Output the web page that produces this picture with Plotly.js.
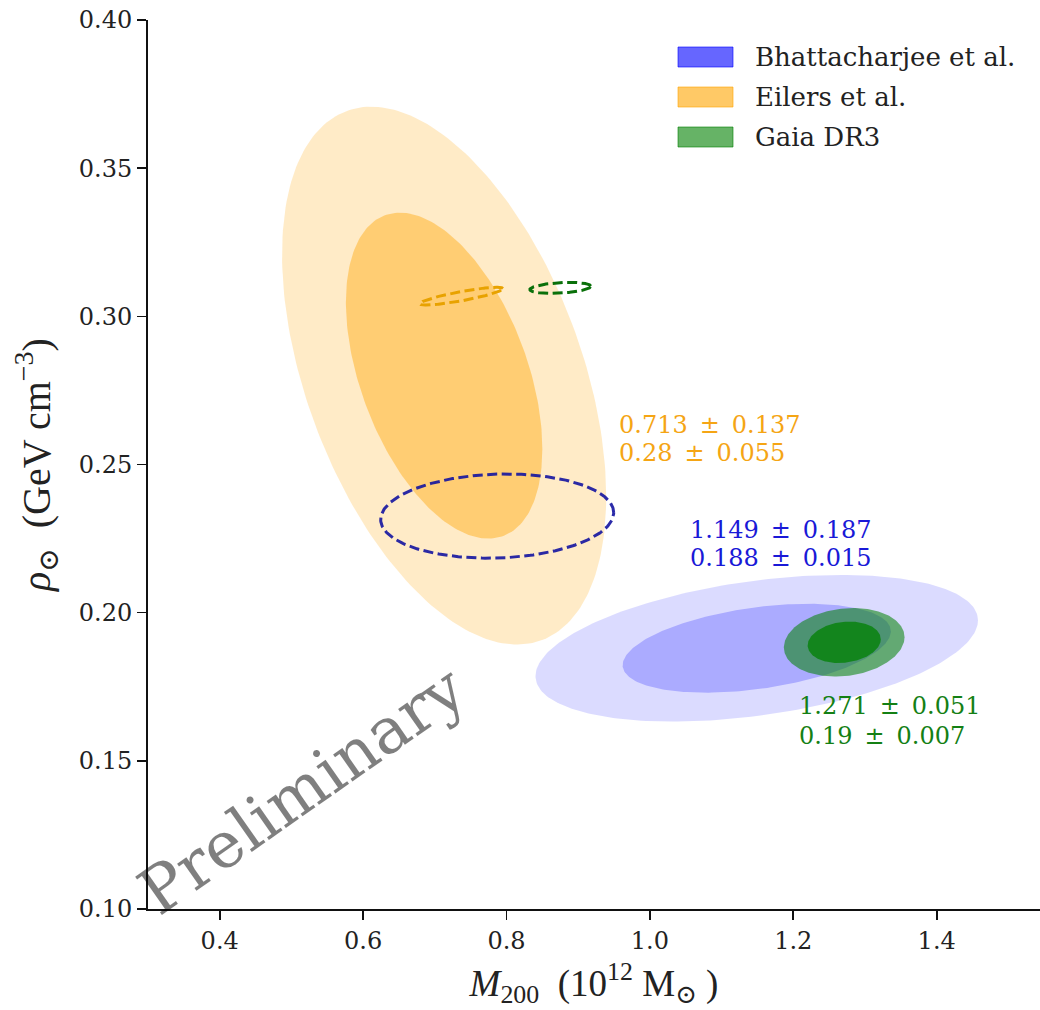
<!DOCTYPE html>
<html><head><meta charset="utf-8">
<script src="https://cdn.plot.ly/plotly-3.0.1.min.js"></script>
<style>html,body{margin:0;padding:0;background:#fff}#chart{width:1040px;height:1010px}</style>
</head><body><div id="chart"></div>
<script>
// ---------------- data ----------------
const seriesNames  = ['Bhattacharjee et al.', 'Eilers et al.', 'Gaia DR3'];
const centerM200   = [1.149, 0.713, 1.271];
const sigmaM200    = [0.187, 0.137, 0.051];
const centerRho    = [0.188, 0.28, 0.19];
const sigmaRho     = [0.015, 0.055, 0.007];
const corrCoef     = [0.38, -0.45, 0.15];
const contourSigma = [1.65, 1.0];          // outer, inner contour (in sigma)

const dashedM200     = [0.787, 0.737, 0.875];
const dashedRho      = [0.2326, 0.3068, 0.3096];
const dashedHalfM200 = [0.1625, 0.058, 0.0425];
const dashedHalfRho  = [0.0142, 0.0030, 0.00185];
const dashedCorr     = [0.08, 0.85, 0.3];

const xTicks      = [0.4, 0.6, 0.8, 1.0, 1.2, 1.4];
const xTickLabels = ['0.4', '0.6', '0.8', '1.0', '1.2', '1.4'];
const yTicks      = [0.10, 0.15, 0.20, 0.25, 0.30, 0.35, 0.40];
const yTickLabels = ['0.10', '0.15', '0.20', '0.25', '0.30', '0.35', '0.40'];

// ---------------- styles ----------------
const outerFill  = ['rgba(0,0,255,0.14)', 'rgba(255,165,0,0.22)', 'rgba(0,128,0,0.55)'];
const innerFill  = ['rgba(0,0,255,0.22)', 'rgba(255,165,0,0.42)', 'rgba(0,128,0,0.75)'];
const legendFill = ['rgba(0,0,255,0.6)', 'rgba(255,165,0,0.6)', 'rgba(0,128,0,0.6)'];
const dashColor  = ['rgba(20,20,160,0.9)', 'rgb(232,162,0)', 'rgb(10,112,10)'];
const textColor  = ['rgb(25,25,215)', 'rgb(245,165,20)', 'rgb(20,128,20)'];
const SERIF = 'DejaVu Serif, serif';
const MATH  = 'Liberation Serif, DejaVu Serif, serif';

function ellipse(cx, cy, sx, sy, rho, n) {
  n = n || 240;
  const xs = [], ys = [], s = Math.sqrt(1 - rho * rho);
  for (let k = 0; k <= n; k++) {
    const t = 2 * Math.PI * k / n;
    xs.push(cx + sx * Math.cos(t));
    ys.push(cy + sy * (rho * Math.cos(t) + s * Math.sin(t)));
  }
  return {xs, ys};
}

const traces = [];
const drawOrder = [1, 0, 2];
drawOrder.forEach(i => {
  contourSigma.forEach((k, j) => {
    const e = ellipse(centerM200[i], centerRho[i], k * sigmaM200[i], k * sigmaRho[i], corrCoef[i]);
    traces.push({
      type: 'scatter', mode: 'lines', x: e.xs, y: e.ys, fill: 'toself',
      fillcolor: j === 0 ? outerFill[i] : innerFill[i],
      line: {width: 0, color: 'rgba(0,0,0,0)'}, hoverinfo: 'skip', showlegend: false,
      name: seriesNames[i]
    });
  });
});
[0, 1, 2].forEach(i => {
  const e = ellipse(dashedM200[i], dashedRho[i], dashedHalfM200[i], dashedHalfRho[i], dashedCorr[i]);
  traces.push({
    type: 'scatter', mode: 'lines', x: e.xs, y: e.ys,
    line: {width: 3, color: dashColor[i], dash: '10px,4.5px'},
    hoverinfo: 'skip', showlegend: false
  });
});

// pixel helpers for layout placement
const PL = 148, PT = 20, PW = 892, PH = 889;
const pX = px => (px - PL) / PW;
const pY = py => (PT + PH - py) / PH;

const shapes = [], annotations = [];
const legendRowY = [57, 97, 137];
[0, 1, 2].forEach(i => {
  shapes.push({
    type: 'rect', xref: 'paper', yref: 'paper',
    x0: pX(678), x1: pX(733), y0: pY(legendRowY[i] + 10), y1: pY(legendRowY[i] - 10),
    fillcolor: legendFill[i], line: {width: 1, color: legendFill[i]}
  });
  annotations.push({
    xref: 'paper', yref: 'paper', x: pX(753), y: pY(legendRowY[i]),
    xanchor: 'left', yanchor: 'middle', showarrow: false,
    text: seriesNames[i], font: {family: SERIF, size: 26, color: '#222'}
  });
});

// value labels (two lines each)
const labelX = [688, 617, 797];
const labelY1 = [530, 425, 706];
const labelY2 = [558, 453, 736];
const PM = '\u2002±\u2002';
[0, 1, 2].forEach(i => {
  annotations.push({
    xref: 'paper', yref: 'paper', x: pX(labelX[i]), y: pY(labelY1[i]),
    xanchor: 'left', yanchor: 'middle', showarrow: false,
    text: centerM200[i] + PM + sigmaM200[i],
    font: {family: SERIF, size: 24, color: textColor[i]}
  });
  annotations.push({
    xref: 'paper', yref: 'paper', x: pX(labelX[i]), y: pY(labelY2[i]),
    xanchor: 'left', yanchor: 'middle', showarrow: false,
    text: centerRho[i] + PM + sigmaRho[i],
    font: {family: SERIF, size: 24, color: textColor[i]}
  });
});

// watermark
annotations.push({
  xref: 'paper', yref: 'paper', x: pX(302), y: pY(790), xanchor: 'center', yanchor: 'middle',
  showarrow: false, text: 'Preliminary', textangle: -35,
  font: {family: SERIF, size: 64, color: 'rgba(0,0,0,0.5)'}
});

const layout = {
  width: 1040, height: 1010,
  margin: {l: PL, r: 0, t: PT, b: 1010 - PT - PH},
  paper_bgcolor: '#fff', plot_bgcolor: '#fff',
  showlegend: false,
  xaxis: {
    range: [0.3, 0.3 + PW / 717], showgrid: false, zeroline: false,
    showline: true, linecolor: '#111', linewidth: 2,
    ticks: 'outside', ticklen: 9, tickwidth: 1.6, tickcolor: '#111',
    tickvals: xTicks, ticktext: xTickLabels,
    tickfont: {family: SERIF, size: 24, color: '#222'},
    automargin: false,
    title: {text: '<i>M</i><sub>200</sub>  (10<sup>12</sup> M<sub>⊙</sub> )', font: {family: MATH, size: 37, color: '#222'}, standoff: 16}
  },
  yaxis: {
    range: [0.1, 0.4], showgrid: false, zeroline: false,
    showline: true, linecolor: '#111', linewidth: 2,
    ticks: 'outside', ticklen: 9, tickwidth: 1.6, tickcolor: '#111',
    tickvals: yTicks, ticktext: yTickLabels,
    tickfont: {family: SERIF, size: 24, color: '#222'},
    automargin: false,
    title: {text: '<i>ρ</i><sub>⊙</sub>  (GeV cm<sup>−3</sup>)', font: {family: MATH, size: 40, color: '#222'}, standoff: 16}
  },
  shapes: shapes,
  annotations: annotations
};

Plotly.newPlot('chart', traces, layout, {staticPlot: true, displayModeBar: false});
</script>
</body></html>
